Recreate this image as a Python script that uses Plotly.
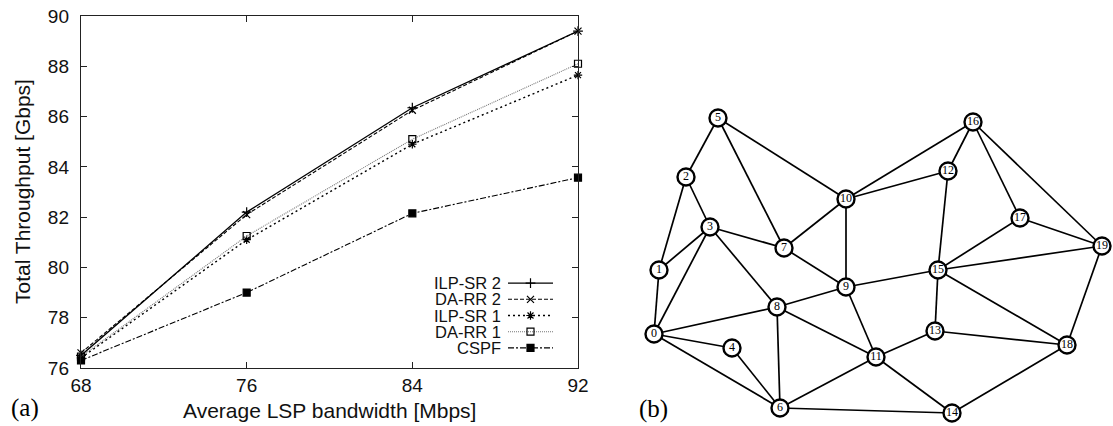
import plotly.graph_objects as go

# ---------------- Panel (a) data ----------------
bandwidth = [68, 76, 84, 92]
series_names = ["ILP-SR 2", "DA-RR 2", "ILP-SR 1", "DA-RR 1", "CSPF"]
ilp_sr_2 = [76.5, 82.2, 86.35, 89.4]
da_rr_2 = [76.6, 82.1, 86.25, 89.4]
ilp_sr_1 = [76.4, 81.1, 84.9, 87.65]
da_rr_1 = [76.45, 81.25, 85.1, 88.1]
cspf = [76.3, 79.0, 82.15, 83.57]
x_ticks = [68, 76, 84, 92]
y_ticks = [76, 78, 80, 82, 84, 86, 88, 90]
x_title = "Average LSP bandwidth [Mbps]"
y_title = "Total Throughput [Gbps]"

# ---------------- Panel (b) data ----------------
node_ids = list(range(20))
node_x = [654, 659, 686, 710, 732, 718, 780, 784, 777, 846,
          846, 876, 948, 935, 952, 938, 973, 1020, 1067, 1102]
node_y = [334, 270, 177, 227, 348, 118, 408, 248, 307, 287,
          199, 357, 171, 331, 413, 270, 122, 218, 345, 246]
edges = [(0, 1), (1, 2), (2, 5), (2, 3), (1, 3), (0, 3), (5, 7), (5, 10),
         (3, 7), (3, 8), (0, 8), (0, 4), (0, 6), (4, 6), (8, 6), (8, 9),
         (8, 11), (7, 10), (7, 9), (10, 9), (9, 11), (9, 15), (10, 16),
         (10, 12), (12, 16), (12, 15), (16, 17), (16, 19), (17, 15),
         (17, 19), (15, 19), (15, 13), (15, 18), (19, 18), (13, 11),
         (13, 18), (11, 6), (11, 14), (6, 14), (14, 18)]

W, H = 1113, 426
SANS = "Liberation Sans, Arial, Helvetica, sans-serif"
SERIF = "Liberation Serif, Times New Roman, serif"

styles = [
    dict(dash="solid", color="#000000", width=1.3, symbol="cross-thin-open", msize=7),
    dict(dash="4px,2px", color="#000000", width=1.1, symbol="x-thin-open", msize=7),
    dict(dash="2px,3px", color="#000000", width=1.4, symbol="asterisk-open", msize=7),
    dict(dash="1px,1px", color="#777777", width=1.1, symbol="square-open", msize=7),
    dict(dash="6px,2px,2px,2px", color="#000000", width=1.1, symbol="square", msize=7),
]
values = [ilp_sr_2, da_rr_2, ilp_sr_1, da_rr_1, cspf]

fig = go.Figure()

for name, vals, st in zip(series_names, values, styles):
    fig.add_trace(go.Scatter(
        x=bandwidth, y=vals, mode="lines+markers", name=name,
        line=dict(color=st["color"], width=st["width"], dash=st["dash"]),
        marker=dict(symbol=st["symbol"], size=st["msize"], color="#000000",
                    line=dict(color="#000000", width=1.2)),
        xaxis="x", yaxis="y", showlegend=False, cliponaxis=False,
    ))

# manual gnuplot-style legend (text on the left, sample on the right)
for k, (name, st) in enumerate(zip(series_names, styles)):
    fig.add_trace(go.Scatter(
        x=[0, 1], y=[k, k], mode="lines",
        line=dict(color=st["color"], width=st["width"], dash=st["dash"]),
        xaxis="x3", yaxis="y3", showlegend=False, hoverinfo="skip",
    ))
    fig.add_trace(go.Scatter(
        x=[0.5], y=[k], mode="markers",
        marker=dict(symbol=st["symbol"], size=st["msize"], color="#000000",
                    line=dict(color="#000000", width=1.2)),
        xaxis="x3", yaxis="y3", showlegend=False, hoverinfo="skip",
    ))

# network edges
ex, ey = [], []
for a, b in edges:
    ex += [node_x[a], node_x[b], None]
    ey += [node_y[a], node_y[b], None]
fig.add_trace(go.Scatter(
    x=ex, y=ey, mode="lines", line=dict(color="#000000", width=1.7),
    xaxis="x2", yaxis="y2", showlegend=False, hoverinfo="skip", cliponaxis=False,
))
fig.add_trace(go.Scatter(
    x=node_x, y=node_y, mode="markers+text", text=[str(i) for i in node_ids],
    textposition="middle center",
    textfont=dict(family=SERIF, size=12, color="#000000"),
    marker=dict(symbol="circle", size=17, color="#ffffff",
                line=dict(color="#000000", width=2.4)),
    xaxis="x2", yaxis="y2", showlegend=False, cliponaxis=False,
))

px_x = lambda p: p / W
px_y = lambda p: 1 - p / H

axis_common = dict(showgrid=False, zeroline=False, showline=True, linecolor="#222222",
                   linewidth=1.4, mirror="ticks", ticks="inside", ticklen=6,
                   tickwidth=1.2, tickcolor="#222222", automargin=False,
                   tickfont=dict(family=SANS, size=19, color="#111111"))

fig.update_layout(
    width=W, height=H, margin=dict(l=0, r=0, t=0, b=0, autoexpand=False),
    paper_bgcolor="#ffffff", plot_bgcolor="#ffffff", showlegend=False,
    xaxis=dict(domain=[px_x(81), px_x(578)], range=[68, 92], tickvals=x_ticks,
               anchor="y", ticklabelstandoff=0, **axis_common),
    yaxis=dict(domain=[px_y(368), px_y(16)], range=[76, 90], tickvals=y_ticks,
               anchor="x", ticklabelstandoff=7, **axis_common),
    xaxis2=dict(domain=[px_x(600), 1.0], range=[600, 1113], visible=False,
                anchor="y2", automargin=False),
    yaxis2=dict(domain=[0.0, 1.0], range=[426, 0], visible=False,
                anchor="x2", automargin=False),
    xaxis3=dict(domain=[px_x(508), px_x(553)], range=[0, 1], visible=False,
                anchor="y3", automargin=False),
    yaxis3=dict(domain=[px_y(356), px_y(275)], range=[4.5, -0.5], visible=False,
                anchor="x3", automargin=False),
)

annotations = []
for k, name in enumerate(series_names):
    annotations.append(dict(text=name, xref="paper", yref="y3", x=px_x(503), y=k,
                            xanchor="right", yanchor="middle", showarrow=False,
                            font=dict(family=SANS, size=16.5, color="#111111")))
annotations.append(dict(text=x_title, xref="paper", yref="paper",
                        x=px_x(329.5), y=px_y(410), xanchor="center", yanchor="middle",
                        showarrow=False, font=dict(family=SANS, size=21, color="#111111")))
annotations.append(dict(text=y_title, xref="paper", yref="paper", textangle=-90,
                        x=px_x(22), y=px_y(192), xanchor="center", yanchor="middle",
                        showarrow=False, font=dict(family=SANS, size=21, color="#111111")))
annotations.append(dict(text="(a)", xref="paper", yref="paper", x=px_x(9), y=px_y(408),
                        xanchor="left", yanchor="middle", showarrow=False,
                        font=dict(family=SERIF, size=25, color="#000000")))
annotations.append(dict(text="(b)", xref="paper", yref="paper", x=px_x(637), y=px_y(409),
                        xanchor="left", yanchor="middle", showarrow=False,
                        font=dict(family=SERIF, size=25, color="#000000")))
fig.update_layout(annotations=annotations)

fig.write_html("out.html", config={"displayModeBar": False},
               post_script="document.body.style.margin='0px';")
